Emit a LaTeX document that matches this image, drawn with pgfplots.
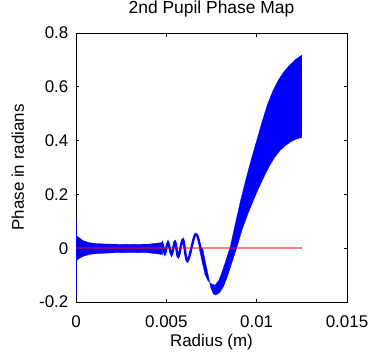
\documentclass[border=0pt]{standalone}
\usepackage{fontspec}
\setmainfont{Liberation Sans}
\usepackage{pgfplots}
\pgfplotsset{compat=1.18}
\begin{document}
\begin{tikzpicture}[x=1bp,y=1bp]
\useasboundingbox (-76bp,-53bp) rectangle (295bp,302bp);
\begin{axis}[
  at={(0,0)}, anchor=south west,
  scale only axis, width=271bp, height=269bp,
  xmin=0, xmax=0.015, ymin=-0.2, ymax=0.8,
  xtick={0,0.005,0.01,0.015}, xticklabels={0,0.005,0.01,0.015},
  ytick={-0.2,0,0.2,0.4,0.6,0.8}, yticklabels={-0.2,0,0.2,0.4,0.6,0.8},
  scaled ticks=false,
  tick align=inside, major tick length=3.5bp,
  xtick pos=both, ytick pos=both,
  axis line style={black, line width=0.8bp},
  every tick/.style={black, line width=0.8bp},
  /pgf/number format/assume math mode=true,
  tick label style={font=\fontsize{17}{20}\selectfont, inner sep=0pt},
  xticklabel style={anchor=north, yshift=-13bp},
  yticklabel style={anchor=east, xshift=-7.5bp},
  title={2nd Pupil Phase Map},
  title style={at={(axis description cs:0.5,1.0502)}, anchor=base, inner sep=0pt, font=\fontsize{17.5}{20}\selectfont},
  xlabel={Radius (m)},
  xlabel style={at={(axis description cs:0.5,-0.1636)}, anchor=base, inner sep=0pt, font=\fontsize{17}{20}\selectfont},
  ylabel={Phase in radians},
  ylabel style={at={(axis description cs:-0.1919,0.5)}, anchor=base, inner sep=0pt, font=\fontsize{17}{20}\selectfont},
  clip=true,
]
% high-frequency band near zero
\addplot[fill=blue, draw=blue, line width=0.3bp] coordinates {
 (0.00005,0.045) (0.0002,0.038) (0.0004,0.028) (0.0007,0.021) (0.001,0.018)
 (0.0015,0.016) (0.002,0.015) (0.003,0.014) (0.004,0.015) (0.0045,0.019) (0.0048,0.021)
 (0.0048,-0.023) (0.0045,-0.021) (0.004,-0.017) (0.003,-0.016) (0.002,-0.017)
 (0.0015,-0.019) (0.001,-0.021) (0.0007,-0.024) (0.0004,-0.03) (0.0002,-0.037) (0.00005,-0.045)
} -- cycle;
% spike at r=0
\addplot[blue, line width=1.2bp] coordinates {(0.00004,-0.18) (0.00004,0.105)};
% chirped oscillation
\addplot[blue, line width=2.4bp, smooth, tension=0.55] coordinates {
 (0.0044,0) (0.00452,0.013) (0.00465,-0.015) (0.00478,0.017) (0.00492,-0.02)
 (0.00509,0.021) (0.00529,-0.024) (0.00548,0.024) (0.00566,-0.032) (0.00592,0.032)
 (0.00617,-0.048) (0.00661,0.052) (0.0069,0) (0.00708,-0.06)
};
% main band
\addplot[fill=blue, draw=blue, line width=0.3bp] coordinates {
 (0.00682,0) (0.00698,-0.05) (0.00714,-0.098) (0.0073,-0.12) (0.0075,-0.133) (0.0077,-0.137)
 (0.0079,-0.12) (0.00805,-0.095) (0.0082,-0.065) (0.00836,-0.032) (0.00852,0) (0.0088,0.085)
 (0.0091,0.175) (0.0094,0.255) (0.0097,0.33) (0.0100,0.40) (0.0103,0.47) (0.0106,0.535)
 (0.0109,0.585) (0.0112,0.625) (0.0115,0.655) (0.0118,0.679) (0.0121,0.699) (0.0125,0.718)
 (0.0125,0.412) (0.0122,0.406) (0.0119,0.396) (0.0116,0.382) (0.0113,0.364) (0.0110,0.338)
 (0.0107,0.305) (0.0104,0.265) (0.0101,0.222) (0.0098,0.175) (0.0095,0.125) (0.0092,0.07)
 (0.00889,0) (0.0086,-0.06) (0.00838,-0.105) (0.00818,-0.14) (0.00797,-0.163) (0.0078,-0.172)
 (0.0077,-0.174) (0.0076,-0.17) (0.00745,-0.145) (0.00732,-0.1) (0.00716,-0.05) (0.00701,0)
} -- cycle;
% reference line at zero
\addplot[red, opacity=0.5, line width=1.6bp] coordinates {(0,0) (0.0125,0)};
\end{axis}
\end{tikzpicture}
\end{document}
